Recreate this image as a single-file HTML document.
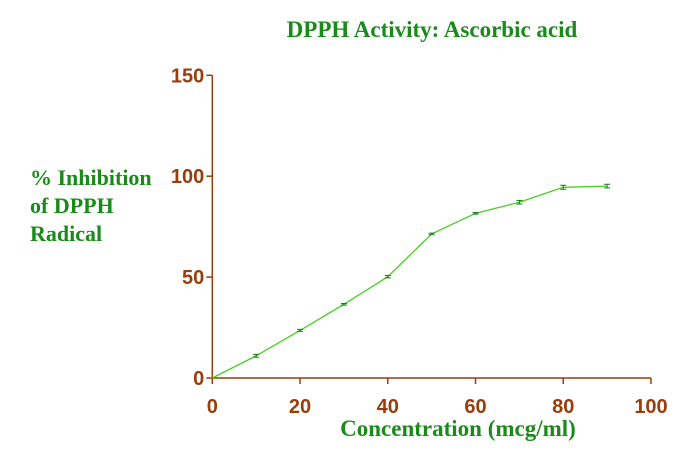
<!DOCTYPE html>
<html><head><meta charset="utf-8"><style>
body{margin:0;background:#fff;}
svg{display:block;font-family:"Liberation Serif",serif;}
.tk{font-family:"Liberation Sans",sans-serif;font-weight:bold;font-size:20px;fill:#993d0c;}
.lab{font-weight:bold;font-size:23px;fill:#1a8a1a;}
.ylab{font-weight:bold;font-size:22px;fill:#1a8a1a;}
</style></head><body>
<svg id="chart" width="697" height="453">
<text x="432" y="37" text-anchor="middle" class="lab">DPPH Activity: Ascorbic acid</text>
<text x="30" y="185" class="ylab">% Inhibition</text>
<text x="30" y="213" class="ylab">of DPPH</text>
<text x="30" y="241" class="ylab">Radical</text>
<text x="458" y="436" text-anchor="middle" class="lab">Concentration (mcg/ml)</text>
<g id="axes"></g><g id="marks"></g>
</svg>
<script>
const xs=[0,10,20,30,40,50,60,70,80,90];
const ys=[0,11.0,23.6,36.5,50.2,71.4,81.6,87.1,94.5,95.1];
const errs=[0,0.7,0.5,0.4,0.6,0.4,0.4,0.9,1.0,0.9];
const xTicks=[0,20,40,60,80,100];
const yTicks=[0,50,100,150];
const X=v=>212.3+v*(651-212.3)/100;
const Y=v=>378-v*(378-75.3)/150;
const NS="http://www.w3.org/2000/svg";
const ax=document.getElementById('axes'),mk=document.getElementById('marks');
function el(t,a,p){const e=document.createElementNS(NS,t);for(const k in a)e.setAttribute(k,a[k]);p.appendChild(e);return e;}
const c='#993d0c';
const xa=el('line',{x1:X(0),y1:Y(0),x2:X(100),y2:Y(0),stroke:c,'stroke-width':1.5},ax);


const ya=el('line',{x1:X(0),y1:Y(0),x2:X(0),y2:Y(150),stroke:c,'stroke-width':1.5},ax);


xTicks.forEach(t=>{
 el('line',{x1:X(t),y1:Y(0),x2:X(t),y2:Y(0)+6,stroke:c,'stroke-width':1.5},ax);
 const tx=el('text',{x:X(t),y:413,'text-anchor':'middle',class:'tk'},ax);tx.textContent=t;
 
 
});
yTicks.forEach(t=>{
 el('line',{x1:X(0)-6,y1:Y(t),x2:X(0),y2:Y(t),stroke:c,'stroke-width':1.5},ax);
 const tx=el('text',{x:X(0)-8,y:Y(t)+7,'text-anchor':'end',class:'tk'},ax);tx.textContent=t;
 
 
});
const ln=el('polyline',{points:xs.map((x,i)=>X(x)+','+Y(ys[i])).join(' '),fill:'none',stroke:'#44d020','stroke-width':1.3},mk);


xs.forEach((x,i)=>{
 if(i===0)return;
 const g=el('g',{stroke:'#1a7a1a','stroke-width':1},mk);
 
 
 const y1=Y(ys[i]+errs[i]),y2=Y(ys[i]-errs[i]);
 el('line',{x1:X(x),y1:y1,x2:X(x),y2:y2},g);
 el('line',{x1:X(x)-3,y1:y1,x2:X(x)+3,y2:y1},g);
 el('line',{x1:X(x)-3,y1:y2,x2:X(x)+3,y2:y2},g);
});
</script>
</body></html>
